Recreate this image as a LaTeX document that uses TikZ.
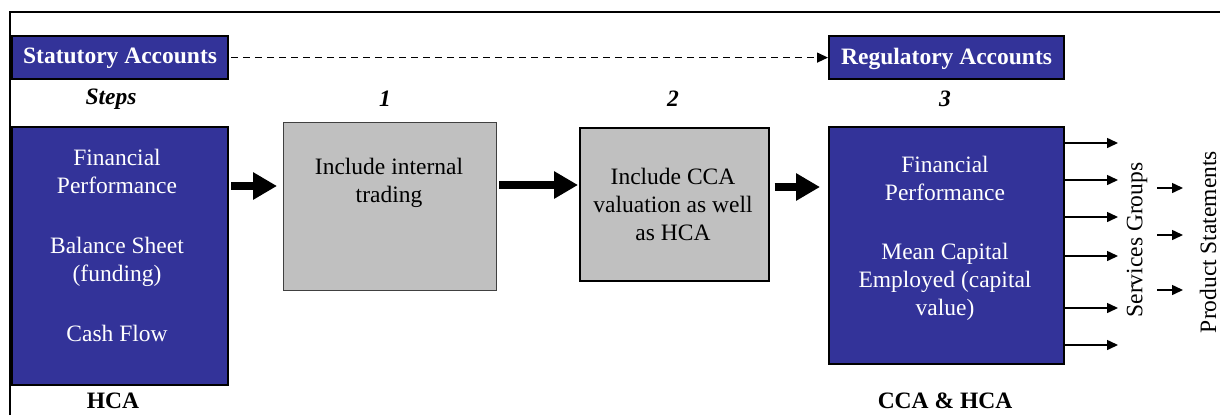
\documentclass[tikz,border=0pt]{standalone}
\usepackage{fontspec}
\setmainfont{Liberation Serif}
\usetikzlibrary{arrows.meta}
\definecolor{navy}{HTML}{333399}
\definecolor{greybox}{HTML}{C0C0C0}
\tikzset{
  bluebox/.style={draw=black, line width=2.2pt, fill=navy, inner sep=0pt},
  greyboxstyle/.style={draw=black, line width=1.6pt, fill=greybox, inner sep=0pt},
  wtext/.style={text=white, align=center, font=\fontsize{23.5}{28}\selectfont},
  btext/.style={text=black, align=center, font=\fontsize{23.5}{28}\selectfont},
  hdr/.style={text=white, font=\fontsize{23.5}{28}\selectfont\bfseries, inner sep=0pt},
  lbl/.style={font=\fontsize{23.5}{28}\selectfont\bfseries, inner sep=0pt},
  steplbl/.style={font=\fontsize{23.5}{28}\selectfont\bfseries\itshape, inner sep=0pt},
  bigarrow/.style={line width=8pt, -{Triangle[length=24pt,width=26pt]}},
  smallarrow/.style={line width=1.5pt, -{Triangle[length=11pt,width=10pt]}},
  dasharrow/.style={line width=1.3pt, dash pattern=on 7pt off 5pt, -{Triangle[length=11pt,width=10pt]}},
  vtext/.style={rotate=90, font=\fontsize{23.5}{28}\selectfont, inner sep=0pt}
}
\begin{document}
\begin{tikzpicture}[x=1pt,y=-1pt]
\useasboundingbox (0,0) rectangle (1220,415);
% frame
\draw[line width=2pt] (10,415) -- (10,12) -- (1221,12);
% header boxes
\node[bluebox, minimum width=216pt, minimum height=43pt, anchor=north west] (stat) at (11,35) {};
\node[hdr] (stattxt) at ([yshift=-1pt]stat.center) {Statutory Accounts};
\node[bluebox, minimum width=235pt, minimum height=43pt, anchor=north west] (reg) at (828,35) {};
\node[hdr] (regtxt) at ([yshift=-1pt]reg.center) {Regulatory Accounts};
\draw[dasharrow] ([xshift=2pt]stat.east) -- (reg.west);
% step labels
\node[steplbl] (steps) at (111,99) {Steps};
\node[steplbl] (s1) at (385,99) {1};
\node[steplbl] (s2) at (673,99) {2};
\node[steplbl] (s3) at (945,99) {3};
% main boxes
\node[bluebox, minimum width=216pt, minimum height=258pt, anchor=north west] (hca) at (11,126) {};
\node[wtext] (hcatxt) at (117,245) {Financial\\Performance\\[32pt]Balance Sheet\\(funding)\\[32pt]Cash Flow};
\node[greyboxstyle, draw=black!75, line width=1pt, minimum width=213pt, minimum height=168pt, anchor=north west] (g1) at (283,122) {};
\node[btext] (g1txt) at (389,183) {Include internal\\trading};
\node[greyboxstyle, minimum width=189pt, minimum height=153pt, anchor=north west] (g2) at (579,127) {};
\node[btext] (g2txt) at (673,204) {Include CCA\\valuation as well\\as HCA};
\node[bluebox, minimum width=235pt, minimum height=237pt, anchor=north west] (rb) at (828,126) {};
\node[wtext] (rbtxt) at (945,238) {Financial\\Performance\\[31pt]Mean Capital\\Employed (capital\\value)};
% bottom labels
\node[lbl] (hcalbl) at (113,401) {HCA};
\node[lbl] (ccalbl) at (945,401) {CCA \& HCA};
% big arrows
\draw[bigarrow] ([xshift=2pt]hca.east |- 0,186) -- ([xshift=-6pt]g1.west |- 0,186);
\draw[bigarrow] ([xshift=2pt]g1.east |- 0,185) -- ([xshift=-1pt]g2.west |- 0,185);
\draw[bigarrow] ([xshift=5pt]g2.east |- 0,187) -- ([xshift=-8pt]rb.west |- 0,187);
% small output arrows
\foreach \yy [count=\i] in {143,180,217,256,308,345} {
  \coordinate (o\i) at (1118,\yy);
  \draw[smallarrow] (rb.east |- o\i) -- (o\i);
}
\node[vtext] (svc) at (1137,240) {Services Groups};
\node[vtext] (prod) at (1208,242) {Product Statements};
\foreach \yy [count=\i] in {188,235,290} {
  \coordinate (p\i) at (1183,\yy);
  \coordinate (q\i) at (1157,\yy);
  \draw[smallarrow] (q\i) -- (p\i);
}
\end{tikzpicture}
\end{document}
